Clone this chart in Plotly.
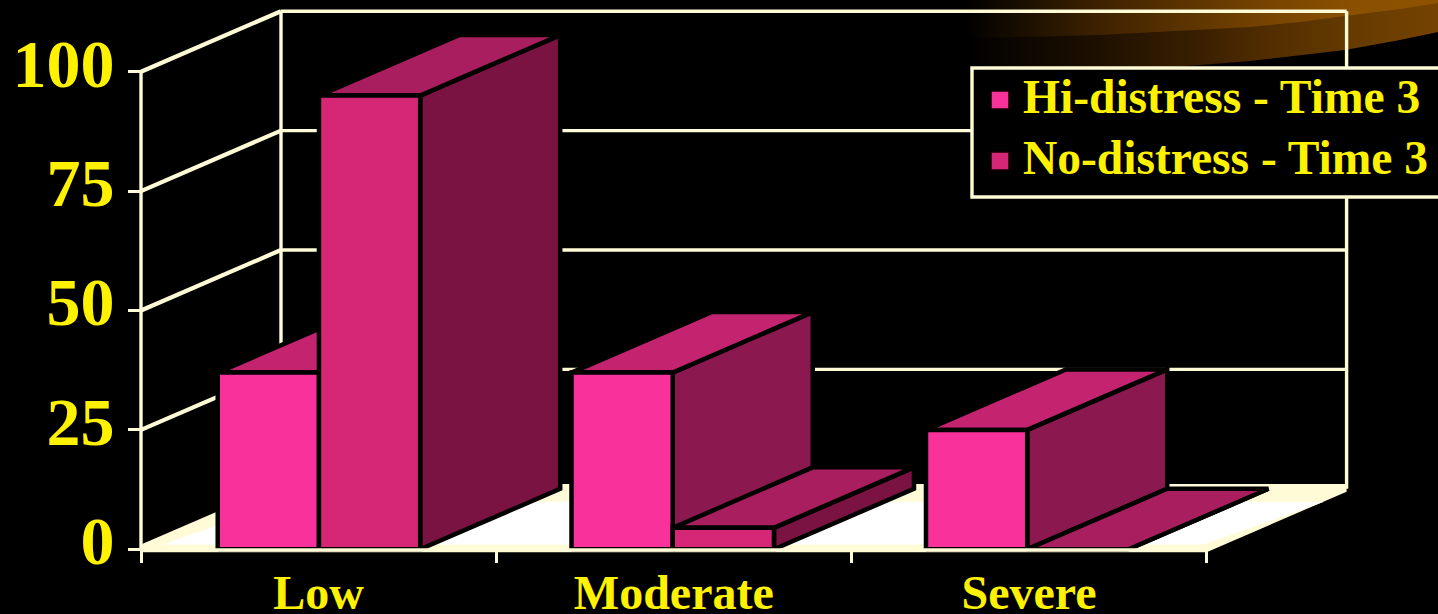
import plotly.graph_objects as go

# Chart values
categories = ["Low", "Moderate", "Severe"]
hi_distress = [37, 37, 25]
no_distress = [95, 4.5, 0]
value_ticks = [0, 25, 50, 75, 100]
hi_name = "Hi-distress - Time 3"
no_name = "No-distress - Time 3"

# Page and axis geometry
W, H = 1438, 614
X0_PX, CAT_PX = 141.0, 355.2
Y0_PX, UNIT_PX = 549.3, 4.776
DEPTH_X = 140.0 / CAT_PX
DEPTH_Y = 60.5 / UNIT_PX
BAR_W = 0.285
GROUP_NUDGE = [0.001, -0.003, -0.005]

CREAM = "#FFFBD6"
YELLOW = "#FFF200"
FONT = "Liberation Serif"

HI = dict(front="#F9319A", top="#C4236F", side="#8C1850")
NO = dict(front="#D62777", top="#A81E5E", side="#7A1242")


def proj(x, v, d=0.0):
    """Oblique projection of category position x, value v, depth d (0 front, 1 back)."""
    return x + d * DEPTH_X, v + d * DEPTH_Y


def page(px, py):
    """Axis coordinates of a page position, for background decoration."""
    return (px - X0_PX) / CAT_PX, (Y0_PX - py) / UNIT_PX


def polygon(points, fill, line=None, width=0, **extra):
    xs, ys = zip(*(points + points[:1]))
    return go.Scatter(
        x=xs, y=ys, mode="lines", fill="toself", fillcolor=fill,
        line=dict(color=line or fill, width=width),
        hoverinfo="skip", showlegend=False, **extra,
    )


def segment(a, b, width=3.4):
    return go.Scatter(
        x=[a[0], b[0]], y=[a[1], b[1]], mode="lines",
        line=dict(color=CREAM, width=width), hoverinfo="skip", showlegend=False,
    )


fig = go.Figure()

# Background swoosh in the top right corner: a darker crescent under a lighter band
swoosh_lower = [(965, 0), (1438, 0), (1438, 32), (1400, 40), (1345, 50), (1300, 55), (1250, 61),
                (1200, 65), (1150, 68), (1100, 70), (1040, 71), (1000, 71), (965, 60)]
swoosh_upper = [(965, 0), (1438, 0), (1438, 3), (1400, 9), (1345, 16), (1300, 22), (1250, 27),
                (1180, 31), (1100, 35), (1010, 37.5), (965, 38)]


def swoosh(points, scale):
    xy = [page(*p) for p in points]
    return go.Scatter(
        x=[p[0] for p in xy], y=[p[1] for p in xy],
        mode="lines", fill="toself", line=dict(width=0), hoverinfo="skip", showlegend=False,
        fillgradient=dict(type="horizontal", colorscale=scale),
    )


fig.add_trace(swoosh(swoosh_lower, [
    [0, "#000000"], [0.285, "#1E1000"], [0.5, "#3A2000"],
    [0.624, "#4F2C00"], [0.814, "#653A00"], [1, "#754300"]]))
fig.add_trace(swoosh(swoosh_upper, [
    [0, "#000000"], [0.285, "#3E2200"], [0.624, "#754300"],
    [0.814, "#8A5000"], [1, "#8F5300"]]))

# Side and back walls
n_cat = len(categories)
for v in value_ticks[1:]:
    fig.add_trace(segment(proj(0, v, 0), proj(0, v, 1), width=4.2))
    fig.add_trace(segment(proj(0, v, 1), proj(n_cat, v, 1)))
fig.add_trace(segment(proj(0, 0, 0), proj(0, 100, 0)))
fig.add_trace(segment(proj(0, 0, 1), proj(0, 100, 1)))
fig.add_trace(segment(proj(n_cat, 0, 1), proj(n_cat, 100, 1)))

# Floor slab: cream rim around a white top
fig.add_trace(polygon(
    [proj(0, -0.6, 0), proj(0, 1, 0), proj(0, 1, 1), proj(n_cat, 1, 1),
     proj(n_cat, -0.6, 1), proj(n_cat, -0.6, 0)], CREAM))
fig.add_trace(polygon(
    [proj(0.062, 1.0, 0), proj(0.062, -1.0, 0.865), proj(n_cat - 0.01, -1.0, 0.865),
     proj(n_cat - 0.01, 1.0, 0)], "#FFFFFF"))


def add_bar(x0, value, colors):
    x1 = x0 + BAR_W
    fig.add_trace(polygon(
        [proj(x1, 0, 0), proj(x1, value, 0), proj(x1, value, 1), proj(x1, 0, 1)],
        colors["side"], "#000000", 4.5))
    fig.add_trace(polygon(
        [proj(x0, value, 0), proj(x1, value, 0), proj(x1, value, 1), proj(x0, value, 1)],
        colors["top"], "#000000", 4.5))
    fig.add_trace(polygon(
        [proj(x0, 0, 0), proj(x1, 0, 0), proj(x1, value, 0), proj(x0, value, 0)],
        colors["front"], "#000000", 4.5))


# Bars, left to right so nearer faces overlap their neighbours
for i in range(n_cat):
    center = i + 0.5 + GROUP_NUDGE[i]
    add_bar(center - BAR_W, hi_distress[i], HI)
    add_bar(center, no_distress[i], NO)

# Front edge of the floor runs over the feet of the bars
fig.add_trace(segment(proj(0, -0.15, 0), proj(n_cat, -0.15, 0), width=3.6))

# Legend panel, drawn above the plot and running off the right edge of the page
LEGEND_BOX = (972, 68, 1460, 197)
shapes = [dict(
    type="rect", xref="paper", yref="paper", layer="above",
    x0=LEGEND_BOX[0] / W, x1=LEGEND_BOX[2] / W,
    y0=1 - LEGEND_BOX[3] / H, y1=1 - LEGEND_BOX[1] / H,
    fillcolor="#000000", line=dict(color=CREAM, width=3.4),
)]
annotations = []
for name, colors, mid in ((hi_name, HI, 100), (no_name, NO, 161)):
    shapes.append(dict(
        type="rect", xref="paper", yref="paper", layer="above",
        x0=991 / W, x1=1009 / W, y0=1 - (mid + 9) / H, y1=1 - (mid - 9) / H,
        fillcolor=colors["front"], line=dict(color="#160006", width=1.5),
    ))
    annotations.append(dict(
        text=name, xref="paper", yref="paper", x=1022 / W, y=1 - (mid - 3) / H,
        xanchor="left", yanchor="middle", showarrow=False, borderpad=0,
        font=dict(family=FONT, size=47.5, color=YELLOW, weight="bold"),
    ))

fig.update_layout(
    width=W, height=H,
    margin=dict(l=0, r=0, t=0, b=0, pad=0, autoexpand=False),
    paper_bgcolor="#000000", plot_bgcolor="#000000",
    font=dict(family=FONT, color=YELLOW),
    showlegend=False,
    shapes=shapes,
    annotations=annotations,
    xaxis=dict(
        domain=[0, 1], range=[page(0, 0)[0], page(W, 0)[0]],
        anchor="free", position=(H - Y0_PX) / H,
        showgrid=False, zeroline=False, showline=False,
        tickmode="array", tickvals=[i + 0.5 for i in range(n_cat)], ticktext=categories,
        ticks="outside", ticklen=1, tickwidth=1, tickcolor="rgba(0,0,0,0)",
        tickfont=dict(family=FONT, size=48, color=YELLOW, weight="bold"),
        minor=dict(tickmode="array", tickvals=list(range(n_cat + 1)), ticks="outside",
                   ticklen=13, tickwidth=3.4, tickcolor=CREAM, showgrid=False),
    ),
    yaxis=dict(
        domain=[0, 1], range=[page(0, H)[1], page(0, 0)[1]],
        anchor="free", position=X0_PX / W,
        showgrid=False, zeroline=False, showline=False,
        tickmode="array", tickvals=value_ticks,
        ticks="outside", ticklen=13, tickwidth=3.4, tickcolor=CREAM,
        ticklabelshift=-9,
        tickfont=dict(family=FONT, size=68, color=YELLOW, weight="bold"),
    ),
)

fig.write_html("out.html", config=dict(displayModeBar=False))
